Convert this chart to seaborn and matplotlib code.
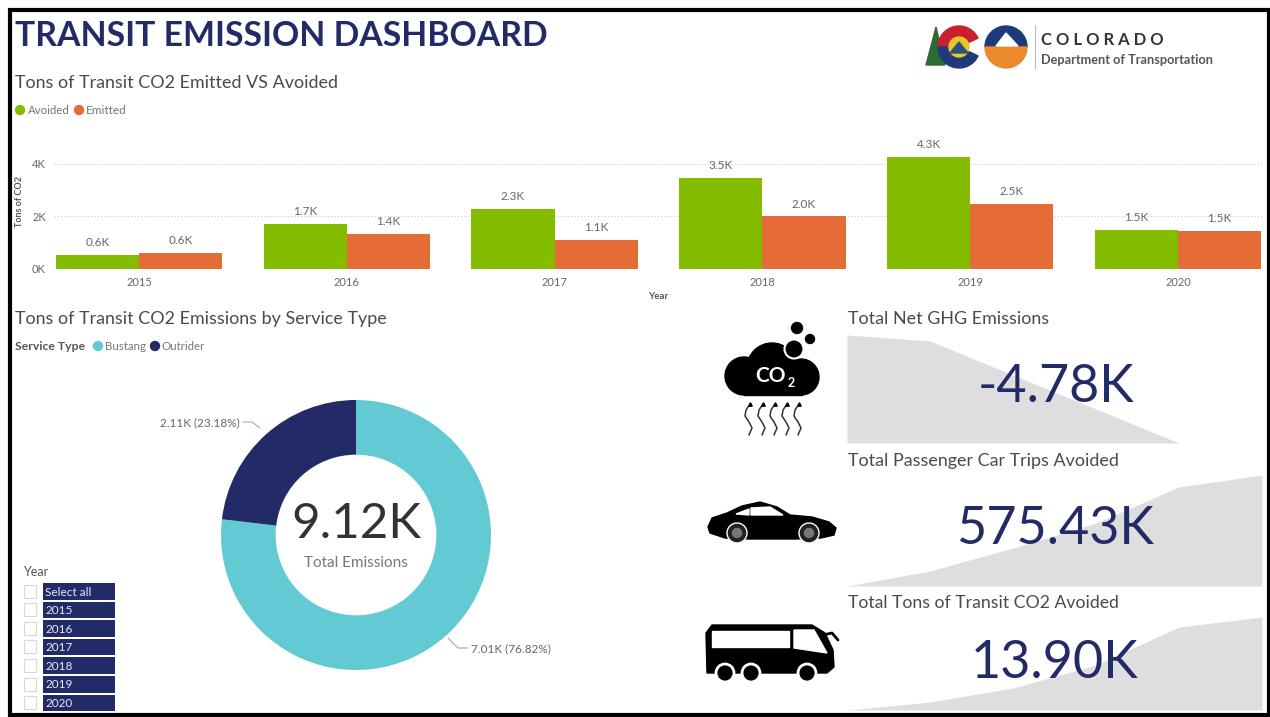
import numpy as np
import pandas as pd
import matplotlib
matplotlib.use("Agg")
import matplotlib.pyplot as plt
from matplotlib.patches import Circle, Polygon, Rectangle, Wedge
import seaborn as sns

# --- data ---
years = ["2015", "2016", "2017", "2018", "2019", "2020"]
avoided = [530, 1700, 2300, 3470, 4270, 1490]
emitted = [600, 1350, 1100, 2000, 2480, 1450]
avoided_labels = ["0.6K", "1.7K", "2.3K", "3.5K", "4.3K", "1.5K"]
emitted_labels = ["0.6K", "1.4K", "1.1K", "2.0K", "2.5K", "1.5K"]

service_names = ["Bustang", "Outrider"]
service_values = [7.01, 2.11]

net_ghg_spark = [108, 102, 68, 34, 0, 0]
car_trips_spark = [0, 15, 38, 63, 99, 111]
co2_avoided_spark = [0, 8, 22, 45, 83, 93]

slicer_items = ["Select all"] + years

NAVY = "#222B68"
GREEN = "#84BC00"
ORANGE = "#E66C37"
TEAL = "#62CAD3"
GREY = "#DEDEDE"
TXT = "#4A4A4A"

W, H = 1270, 717
sns.set_theme(style="white")
plt.rcParams["font.family"] = ["Lato", "DejaVu Sans"]

fig = plt.figure(figsize=(W / 100, H / 100), dpi=100, facecolor="white")


def px_axes(x0, y0, x1, y1, **kw):
    # pixel box (top-left origin) -> axes
    return fig.add_axes([x0 / W, 1 - y1 / H, (x1 - x0) / W, (y1 - y0) / H], **kw)


# --- bar chart ---
ax = px_axes(54, 150, 1262, 269)
df = pd.DataFrame({
    "Year": years * 2,
    "Tons": avoided + emitted,
    "Kind": ["Avoided"] * 6 + ["Emitted"] * 6,
})
sns.barplot(data=df, x="Year", y="Tons", hue="Kind", palette=[GREEN, ORANGE],
            width=0.8, gap=0, saturation=1, legend=False, ax=ax, zorder=3,
            linewidth=0, edgecolor="none")
ax.set_xlim(-0.409, 5.404)
ax.set_ylim(0, 4533)
ax.set_yticks([0, 2000, 4000], ["0K", "2K", "4K"])
ax.grid(axis="y", color="#C9C9C9", linestyle=(0, (1, 2)), linewidth=0.8)
ax.set_axisbelow(True)
sns.despine(ax=ax, left=True, bottom=True)
ax.tick_params(axis="both", length=0, labelsize=8, labelcolor="#666666", pad=6)
ax.set_xlabel("Year", fontsize=7, color="#555555", fontweight="bold", labelpad=3)
ax.set_ylabel("Tons of CO2", fontsize=6.5, color="#555555", fontweight="bold")
ax.yaxis.set_label_coords((24 - 54) / 1208, 0.57)
for cont, labs in zip(ax.containers, [avoided_labels, emitted_labels]):
    ax.bar_label(cont, labels=labs, padding=5, fontsize=8.5, color="#666666")

# --- donut ---
ax2 = px_axes(221, 400, 491, 670)
ax2.pie(service_values, colors=[TEAL, NAVY], startangle=90, counterclock=False,
        radius=1, wedgeprops=dict(width=0.405, linewidth=0))
ax2.set_xlim(-1, 1)
ax2.set_ylim(-1, 1)

# --- KPI sparkline areas ---
spark_boxes = [(847, 333, 1262, 443, net_ghg_spark, 110),
               (847, 475, 1262, 586, car_trips_spark, 111),
               (847, 617, 1262, 710, co2_avoided_spark, 93)]
for x0, y0, x1, y1, vals, top in spark_boxes:
    a = px_axes(x0, y0, x1, y1)
    a.fill_between(years, vals, 0, color=GREY, linewidth=0)
    a.set_xlim(0, 5)
    a.set_ylim(0, top)
    a.axis("off")

# --- overlay in pixel coordinates ---
ov = fig.add_axes([0, 0, 1, 1], facecolor="none", zorder=10)
ov.set_xlim(0, W)
ov.set_ylim(H, 0)
ov.axis("off")

# frame
ov.add_patch(Rectangle((10, 10), 1258.5, 705, fill=False, edgecolor="black", linewidth=3))

ov.text(15, 36, "TRANSIT EMISSION DASHBOARD", fontsize=24.3, color=NAVY, fontweight="bold",
        va="center", ha="left")
ov.text(15, 83, "Tons of Transit CO2 Emitted VS Avoided", fontsize=12.9, color=TXT, va="center")
ov.text(15, 319, "Tons of Transit CO2 Emissions by Service Type", fontsize=12.9, color=TXT, va="center")

# legends
ov.add_patch(Circle((20, 110), 4.5, color=GREEN))
ov.text(28, 111, "Avoided", fontsize=8.3, color="#777777", va="center")
ov.add_patch(Circle((79, 110), 4.5, color=ORANGE))
ov.text(86, 111, "Emitted", fontsize=8.5, color="#777777", va="center")
ov.text(15, 347, "Service Type", fontsize=8.8, color="#555555", va="center", fontweight="bold")
ov.add_patch(Circle((98, 346), 4.5, color=TEAL))
ov.text(105, 347, service_names[0], fontsize=8.3, color="#777777", va="center")
ov.add_patch(Circle((155, 346), 4.5, color=NAVY))
ov.text(162, 347, service_names[1], fontsize=8.3, color="#777777", va="center")

# donut text
ov.text(356, 524, "9.12K", fontsize=35.5, color="#333333", ha="center", va="center")
ov.text(356, 563, "Total Emissions", fontsize=11, color="#777777", ha="center", va="center")
ov.text(200, 423, "2.11K (23.18%)", fontsize=8.5, color="#666666", ha="center", va="center")
ov.plot([243, 252, 260], [422, 422, 428], color="#AAAAAA", lw=0.8)
ov.text(511, 649, "7.01K (76.82%)", fontsize=8.5, color="#666666", ha="center", va="center")
ov.plot([448, 458, 468], [638, 648, 648], color="#AAAAAA", lw=0.8)

# slicer
ov.text(23, 572, "Year", fontsize=9, color="#555555", va="center")
for i, item in enumerate(slicer_items):
    yc = 591 + i * 18.6
    ov.add_patch(Rectangle((24, yc - 6.5), 12, 13, facecolor="white", edgecolor="#D8D8D8", lw=0.8))
    ov.add_patch(Rectangle((43, yc - 8), 72, 16.5, facecolor=NAVY, edgecolor="none"))
    ov.text(45, yc + 1, item, fontsize=8.5, color="#E8E8F0", va="center")

# KPI text
ov.text(848, 319, "Total Net GHG Emissions", fontsize=12.9, color=TXT, va="center")
ov.text(848, 461, "Total Passenger Car Trips Avoided", fontsize=12.9, color=TXT, va="center")
ov.text(848, 603, "Total Tons of Transit CO2 Avoided", fontsize=12.7, color=TXT, va="center")
ov.text(1056, 388, "-4.78K", fontsize=37.5, color=NAVY, ha="center", va="center")
ov.text(1055, 530, "575.43K", fontsize=37.5, color=NAVY, ha="center", va="center")
ov.text(1055, 664, "13.90K", fontsize=37.5, color=NAVY, ha="center", va="center")

# cloud icon
for cx, cy, r in [(744, 376, 19), (772, 368, 25), (801, 377, 18)]:
    ov.add_patch(Circle((cx, cy), r, color="black"))
ov.add_patch(Rectangle((744, 372), 58, 23, color="black"))
ov.add_patch(Circle((794, 349), 9.5, facecolor="black", edgecolor="white", lw=1.5))
ov.add_patch(Circle((797, 328), 5.5, color="black"))
ov.add_patch(Circle((810, 339), 4.5, color="black"))
ov.text(770, 376, "CO", fontsize=15, color="white", fontweight="bold", ha="center", va="center")
ov.text(791, 383, "2", fontsize=9, color="white", fontweight="bold", ha="center", va="center")
wave_y = [404, 410, 416, 422, 428, 435]
wave_dx = [1, -3, -4, 0, 3, 0]
for xw in [749, 762, 774, 786, 798]:
    ov.plot([xw + d for d in wave_dx], wave_y, color="#333333", lw=1.1)
    ov.plot([xw + 1], [404], marker="^", ms=2.5, color="black")

# car icon
ov.add_patch(Polygon([(708, 527), (712, 518), (727, 513), (742, 506), (760, 502), (777, 507),
                      (790, 515), (812, 517), (829, 522), (836, 528), (834, 535), (821, 538),
                      (795, 539), (749, 539), (725, 538), (710, 533)], color="black"))
ov.add_patch(Polygon([(736, 514), (749, 509), (749, 515)], color="white"))
ov.add_patch(Polygon([(751, 508), (770, 507), (783, 515), (751, 515)], color="white"))
for cx in [737, 809]:
    ov.add_patch(Circle((cx, 533), 10, facecolor="#222222", edgecolor="white", lw=1))
    ov.add_patch(Circle((cx, 533), 4.5, color="#777777"))

# bus icon
ov.add_patch(Polygon([(706, 633), (712, 625), (812, 625), (825, 633), (833, 650), (834, 667),
                      (827, 673), (707, 673)], color="black"))
ov.add_patch(Rectangle((712, 631), 77, 16, color="white"))
ov.add_patch(Polygon([(794, 630), (814, 630), (827, 653), (794, 648)], color="white"))
ov.plot([823, 832, 838], [635, 633, 640], color="black", lw=2)
for cx in [725, 751, 807]:
    ov.add_patch(Circle((cx, 673), 9, facecolor="black", edgecolor="white", lw=2))

# logo
ov.add_patch(Polygon([(926, 65), (936, 27), (945, 65)], color="#2E6B34"))
ov.add_patch(Wedge((959, 47), 21, 180, 335, width=11, color="#C8202F"))
ov.add_patch(Wedge((959, 47), 21, 25, 180, width=11, color="#1F3A7A"))
ov.add_patch(Circle((959, 47), 10, color="#E8C829"))
ov.add_patch(Polygon([(950, 53), (959, 42), (968, 53)], color="#2F4F7F"))
ov.add_patch(Wedge((1006, 47), 21, 180, 360, color="#1F3A7A"))
ov.add_patch(Wedge((1006, 47), 21, 0, 180, color="#EE8A2E"))
ov.add_patch(Polygon([(996, 46), (1006, 33), (1018, 46)], color="white"))
ov.plot([1035, 1035], [25, 68], color="#BBBBBB", lw=0.8)
ov.text(1041, 40, "C O L O R A D O", fontsize=12, color="#333333", fontweight="bold", va="center")
ov.text(1041, 60, "Department of Transportation", fontsize=9.2, color="#555555", fontweight="bold", va="center")

fig.savefig("out.png", dpi=100, facecolor="white")
plt.close(fig)
